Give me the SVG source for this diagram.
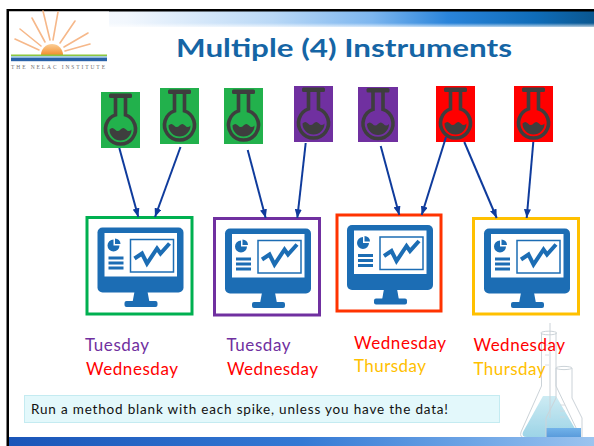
<svg xmlns="http://www.w3.org/2000/svg" xmlns:xlink="http://www.w3.org/1999/xlink" width="594" height="446" viewBox="0 0 594 446">
  <style>
    .lbl { font-family: Lato, "Liberation Sans", sans-serif; font-size: 17px; }
    .tue { fill: #7030a0; }
    .wed { fill: #ff0000; }
    .thu { fill: #ffc000; }
    .sample-green { fill: #22b14c; }
    .sample-purple { fill: #7030a0; }
    .sample-red { fill: #ff0000; }
    .station { fill: #ffffff; stroke-width: 3; }
    .glyph-line { fill: none; stroke: #3e3e3e; stroke-width: 3.6; }
    .glyph-fill { fill: #3e3e3e; }
    .mon { fill: #1c6db4; }
    .feed { stroke: #0f3b9c; stroke-width: 2; fill: none; marker-end: url(#head); }
    .glass { fill: none; stroke: #c3ccd2; stroke-width: 1; }
  </style>
  <defs>
    <linearGradient id="topBar" x1="0" y1="0" x2="1" y2="0">
      <stop offset="0" stop-color="#ffffff"/>
      <stop offset="0.2" stop-color="#f2f7fd"/>
      <stop offset="0.45" stop-color="#b9d8f6"/>
      <stop offset="0.62" stop-color="#7db6ef"/>
      <stop offset="0.75" stop-color="#2a84da"/>
      <stop offset="0.9" stop-color="#0f6cb8"/>
      <stop offset="1" stop-color="#0a5790"/>
    </linearGradient>
    <linearGradient id="topFade" x1="0" y1="0" x2="0" y2="1">
      <stop offset="0" stop-color="#ffffff" stop-opacity="0"/>
      <stop offset="0.75" stop-color="#ffffff" stop-opacity="0"/>
      <stop offset="1" stop-color="#ffffff" stop-opacity="0.7"/>
    </linearGradient>
    <linearGradient id="bottomBar" x1="0" y1="0" x2="1" y2="0">
      <stop offset="0" stop-color="#1a55b8"/>
      <stop offset="0.5" stop-color="#3479d4"/>
      <stop offset="0.8" stop-color="#6fa6e6"/>
      <stop offset="1" stop-color="#9cc4ef"/>
    </linearGradient>
    <linearGradient id="sun" x1="0" y1="1" x2="0" y2="0">
      <stop offset="0" stop-color="#f28e2c"/>
      <stop offset="1" stop-color="#fbcf98"/>
    </linearGradient>
    <linearGradient id="liquidLight" x1="0" y1="0" x2="0" y2="1">
      <stop offset="0" stop-color="#b7e3ee"/>
      <stop offset="1" stop-color="#6fc0dc"/>
    </linearGradient>
    <linearGradient id="liquidDeep" x1="0" y1="0" x2="0" y2="1">
      <stop offset="0" stop-color="#5aa6e6"/>
      <stop offset="1" stop-color="#2a78cc"/>
    </linearGradient>
    <marker id="head" viewBox="0 0 10 8" refX="10" refY="4" markerWidth="9" markerHeight="7" markerUnits="userSpaceOnUse" orient="auto">
      <path d="M0,0 L10,4 L0,8 Z" fill="#0f3b9c"/>
    </marker>
    <!-- round-bottom flask glyph, drawn in a 39 x 56 tile -->
    <g id="flask-glyph">
      <rect class="glyph-fill" x="8" y="1.5" width="23" height="4.5" rx="1.5"/>
      <path class="glyph-line" d="M14.5,5 V22.9 A15,15 0 1 0 24.5,22.9 V5"/>
      <path class="glyph-fill" d="M8.5,37.5 q2.75,-3 5.5,0 t5.5,0 t5.5,0 t5.5,0 A11,11 0 0 1 8.5,37.5 Z"/>
    </g>
    <!-- desktop monitor with dashboard, drawn in a 105 x 97 tile -->
    <g id="monitor-glyph">
      <rect class="mon" x="10.5" y="10" width="86" height="65" rx="5"/>
      <rect x="17.5" y="15.5" width="72.5" height="43.5" fill="#ffffff"/>
      <rect x="43.5" y="22" width="43" height="32.5" fill="#ffffff" stroke="#1c6db4" stroke-width="1.5"/>
      <polyline points="47.5,41 55,36 60,46 70,31 73.5,36 82.5,26" fill="none" stroke="#1c6db4" stroke-width="4" stroke-linejoin="miter"/>
      <path class="mon" d="M26.5,28 L26.5,22 A6,6 0 1 0 32.5,28 Z"/>
      <path class="mon" d="M28,26.5 L28,21 A5.5,5.5 0 0 1 33.5,26.5 Z"/>
      <rect class="mon" x="21.5" y="39" width="15" height="3"/>
      <rect class="mon" x="21.5" y="44" width="15" height="3"/>
      <rect class="mon" x="21.5" y="49" width="15" height="3"/>
      <polygon class="mon" points="47.5,74 60.5,74 62.5,85 45.5,85"/>
      <rect class="mon" x="37.5" y="83.5" width="33" height="6" rx="2"/>
    </g>
  </defs>

  <!-- page -->
  <rect width="594" height="446" fill="#ffffff"/>
  <rect x="9" y="11" width="585" height="16" fill="url(#topBar)"/>
  <rect x="9" y="11" width="585" height="16" fill="url(#topFade)"/>
  <rect x="7" y="9" width="587" height="2.5" fill="#000000"/>
  <rect x="6.5" y="9" width="2.5" height="437" fill="#000000"/>

  <!-- institute logo -->
  <g id="logo">
    <rect x="9" y="11.5" width="100" height="63" fill="#ffffff"/>
    <g stroke="#f6b88a" stroke-width="1.6" stroke-linecap="round">
      <line x1="50" y1="40" x2="43" y2="11"/>
      <line x1="53" y1="40" x2="58" y2="12"/>
      <line x1="60" y1="43" x2="75" y2="21"/>
      <line x1="64" y1="47" x2="88" y2="33"/>
      <line x1="65" y1="51" x2="90" y2="44"/>
      <line x1="45" y1="42" x2="32" y2="18"/>
      <line x1="41" y1="46" x2="20" y2="29"/>
      <line x1="39" y1="50" x2="15" y2="39"/>
    </g>
    <path d="M41,55 A11,11 0 0 1 63,55 Z" fill="url(#sun)"/>
    <rect x="11" y="54.5" width="96" height="1.8" fill="#8cc63f"/>
    <rect x="11" y="56.3" width="96" height="1.5" fill="#8fc0e6"/>
    <rect x="11" y="57.8" width="96" height="3.4" fill="#2a62a8"/>
    <text x="11" y="68.5" font-family="'Liberation Serif', serif" font-size="5.5" fill="#707070" textLength="94">THE NELAC INSTITUTE</text>
  </g>

  <!-- title -->
  <text x="344" y="57" text-anchor="middle" font-family="Lato, 'Liberation Sans', sans-serif" font-weight="700" font-size="25" fill="#1565a5" textLength="336" lengthAdjust="spacingAndGlyphs">Multiple (4) Instruments</text>

  <!-- glassware, bottom right -->
  <g id="glassware" opacity="0.85">
    <path d="M543,396 L523,432 Q521,437 527,437 L574,437 Q580,437 577,432 L556,396 Z" fill="url(#liquidLight)" opacity="0.8"/>
    <path class="glass" d="M541.5,333 L541.5,386 L521,432 Q519,438 526,438 L575,438 Q581,438 578,432 L556,386 L556,333"/>
    <ellipse class="glass" cx="548.8" cy="333" rx="8" ry="1.8"/>
    <line class="glass" x1="550" y1="323" x2="550" y2="418"/>
    <path d="M546,428 L581,428 L581,440 Q581,443 577,443 L550,443 Q546,443 546,440 Z" fill="url(#liquidDeep)"/>
    <path class="glass" d="M556,368 L556,398 L546,418 L546,441 Q546,444 550,444 L578,444 Q582,444 582,441 L582,418 L572,398 L572,368"/>
    <ellipse class="glass" cx="564" cy="368" rx="8" ry="1.6"/>
    <g stroke="#c9d1d6" stroke-width="0.8">
      <line x1="560" y1="405" x2="565" y2="405"/>
      <line x1="560" y1="411" x2="565" y2="411"/>
      <line x1="560" y1="417" x2="565" y2="417"/>
      <line x1="545" y1="345" x2="549" y2="345"/>
      <line x1="545" y1="355" x2="549" y2="355"/>
      <line x1="545" y1="365" x2="549" y2="365"/>
    </g>
  </g>
  <rect x="9" y="437" width="585" height="9" fill="url(#bottomBar)"/>

  <!-- sample flasks -->
  <g id="sample-1"><rect class="sample-green" x="101" y="92" width="39" height="56"/><use xlink:href="#flask-glyph" href="#flask-glyph" transform="translate(101,92)"/></g>
  <g id="sample-2"><rect class="sample-green" x="160" y="88" width="39" height="56"/><use xlink:href="#flask-glyph" href="#flask-glyph" transform="translate(160,88)"/></g>
  <g id="sample-3"><rect class="sample-green" x="224" y="88" width="39" height="56"/><use xlink:href="#flask-glyph" href="#flask-glyph" transform="translate(224,88)"/></g>
  <g id="sample-4"><rect class="sample-purple" x="294" y="86" width="39" height="56"/><use xlink:href="#flask-glyph" href="#flask-glyph" transform="translate(294,86)"/></g>
  <g id="sample-5"><rect class="sample-purple" x="358" y="87" width="40" height="55"/><use xlink:href="#flask-glyph" href="#flask-glyph" transform="translate(358.5,86.5)"/></g>
  <g id="sample-6"><rect class="sample-red" x="436" y="86" width="39" height="56"/><use xlink:href="#flask-glyph" href="#flask-glyph" transform="translate(436,86)"/></g>
  <g id="sample-7"><rect class="sample-red" x="514" y="86" width="39" height="56"/><use xlink:href="#flask-glyph" href="#flask-glyph" transform="translate(514,86)"/></g>

  <!-- instruments -->
  <g id="instrument-1"><rect class="station" x="87" y="217.5" width="105" height="96.5" stroke="#00b050"/><use xlink:href="#monitor-glyph" href="#monitor-glyph" transform="translate(87,217.5)"/></g>
  <g id="instrument-2"><rect class="station" x="214.5" y="218.5" width="105" height="96.5" stroke="#7030a0"/><use xlink:href="#monitor-glyph" href="#monitor-glyph" transform="translate(214.5,218.5)"/></g>
  <g id="instrument-3"><rect class="station" x="337" y="215" width="104" height="96" stroke="#ff3300" stroke-width="3.5"/><use xlink:href="#monitor-glyph" href="#monitor-glyph" transform="translate(336.5,215)"/></g>
  <g id="instrument-4"><rect class="station" x="473.5" y="218.5" width="105" height="95.5" stroke="#ffc000"/><use xlink:href="#monitor-glyph" href="#monitor-glyph" transform="translate(473.5,218.5)"/></g>

  <!-- sample-to-instrument connectors -->
  <g id="connectors">
    <line class="feed" x1="119.3" y1="148" x2="138.3" y2="217"/>
    <line class="feed" x1="180.5" y1="147" x2="155" y2="217"/>
    <line class="feed" x1="247.7" y1="150" x2="265.7" y2="218"/>
    <line class="feed" x1="305.7" y1="143" x2="297.3" y2="218"/>
    <line class="feed" x1="380.7" y1="146" x2="399.3" y2="215"/>
    <line class="feed" x1="446" y1="137" x2="421.7" y2="215"/>
    <line class="feed" x1="464.3" y1="142" x2="496.7" y2="218"/>
    <line class="feed" x1="533.3" y1="142" x2="526.7" y2="218"/>
  </g>

  <!-- run days -->
  <g id="days">
    <text class="lbl tue" x="85" y="351" textLength="64">Tuesday</text>
    <text class="lbl wed" x="86" y="375" textLength="92">Wednesday</text>
    <text class="lbl tue" x="226.5" y="351" textLength="64">Tuesday</text>
    <text class="lbl wed" x="227" y="375" textLength="91">Wednesday</text>
    <text class="lbl wed" x="354" y="349" textLength="92">Wednesday</text>
    <text class="lbl thu" x="354" y="372" textLength="72">Thursday</text>
    <text class="lbl wed" x="473.5" y="351" textLength="91.5">Wednesday</text>
    <text class="lbl thu" x="473.5" y="375" textLength="72">Thursday</text>
  </g>

  <!-- note -->
  <g id="note">
    <rect x="24.5" y="395.5" width="475" height="27" fill="#e3f8fb" stroke="#c4ebf1" stroke-width="1"/>
    <text x="31" y="413.5" font-family="Lato, 'Liberation Sans', sans-serif" font-size="13.5" fill="#111111" textLength="417">Run a method blank with each spike, unless you have the data!</text>
  </g>
</svg>
